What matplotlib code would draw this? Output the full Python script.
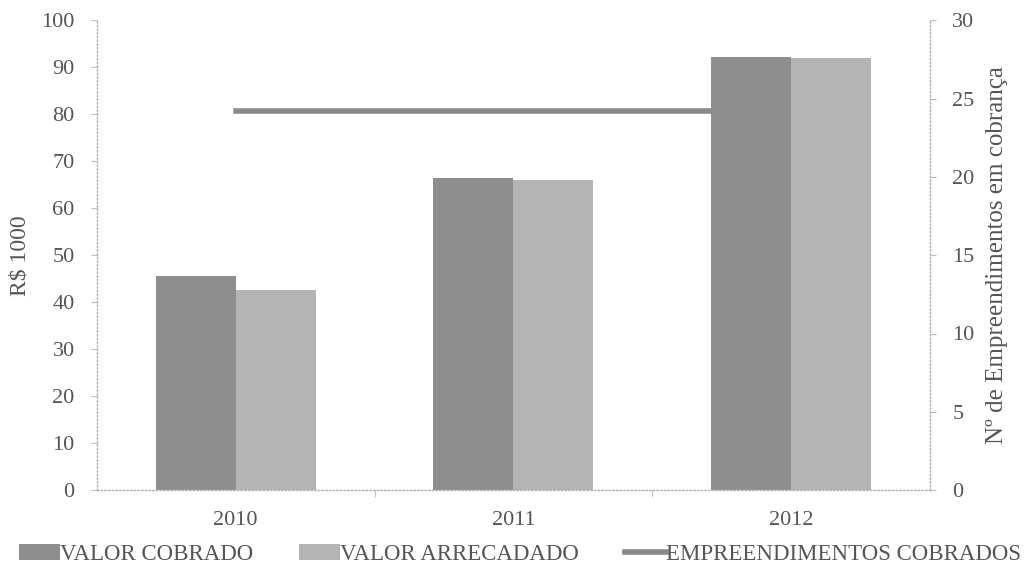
import matplotlib.pyplot as plt
import numpy as np

plt.rcParams['font.family'] = ['Liberation Serif', 'DejaVu Serif']

# Dados
anos = ['2010', '2011', '2012']
valor_cobrado = [45.5, 66.5, 92.2]
valor_arrecadado = [42.5, 66.0, 92.0]
empreendimentos = [24.2, 24.2, 24.2]

txt = '#555555'
x = np.arange(len(anos))
w = 0.288

fig = plt.figure(figsize=(10.3, 5.8), dpi=100)
ax = fig.add_axes([0.094, 0.155, 0.809, 0.81])
ax2 = ax.twinx()

# barras por cima da linha
ax.set_zorder(ax2.get_zorder() + 1)
ax.patch.set_visible(False)

ax.bar(x - w / 2, valor_cobrado, w, color='#8e8e8e', label='VALOR COBRADO')
ax.bar(x + w / 2, valor_arrecadado, w, color='#b4b4b4', label='VALOR ARRECADADO')
ax2.plot(x, empreendimentos, color='#8a8a8a', linewidth=4, label='EMPREENDIMENTOS COBRADOS')

ax.set_xlim(-0.5, 2.5)
ax.set_ylim(0, 100)
ax.set_yticks(range(0, 101, 10))
ax2.set_ylim(0, 30)
ax2.set_yticks(range(0, 31, 5))

ax.set_xticks(x)
ax.set_xticklabels(anos)
ax.set_xticks([0.5, 1.5], minor=True)
ax.tick_params(axis='x', which='major', length=0, pad=15, labelsize=16, labelcolor=txt)
ax.tick_params(axis='x', which='minor', length=5, direction='out', color='#bbbbbb')
ax.tick_params(axis='y', length=4, color='#bbbbbb', pad=12, labelsize=16, labelcolor=txt)
ax2.tick_params(axis='y', length=4, color='#bbbbbb', pad=12, labelsize=16, labelcolor=txt)

for a in (ax, ax2):
    for s in a.spines.values():
        s.set_visible(False)
ax.spines['left'].set_visible(True)
ax.spines['bottom'].set_visible(True)
ax2.spines['right'].set_visible(True)
for s in (ax.spines['left'], ax.spines['bottom'], ax2.spines['right']):
    s.set_color('#b0b0b0')
    s.set_linestyle(':')
    s.set_linewidth(1)

ax.set_ylabel('R$ 1000', fontsize=17, color=txt, labelpad=8)
ax2.set_ylabel('Nº de Empreendimentos em cobrança', fontsize=18, color=txt, labelpad=8)

h1, l1 = ax.get_legend_handles_labels()
h2, l2 = ax2.get_legend_handles_labels()
fig.legend(h1 + h2, l1 + l2, loc='lower center', bbox_to_anchor=(0.505, -0.01), ncol=3,
           frameon=False, fontsize=16.5, labelcolor=txt, handlelength=1.8,
           handletextpad=0.0, columnspacing=2.0, handleheight=0.7)

fig.savefig('out.png', dpi=100)
